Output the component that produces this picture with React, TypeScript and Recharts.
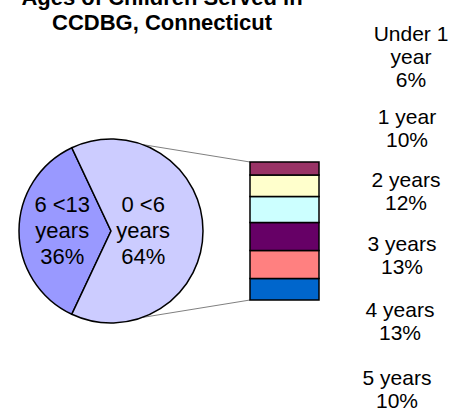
import { PieChart, Pie, Cell, BarChart, Bar, XAxis, YAxis } from "recharts"

// main split
const groupNames = ["6 <13 years", "0 <6 years"]
const groupShares = [36, 64]
const groupColors = ["#9999FF", "#CCCCFF"]

// breakdown of 0 <6 years, listed bottom of the bar to top
const subNames = ["5 years", "4 years", "3 years", "2 years", "1 year", "Under 1 year"]
const subShares = [10, 13, 13, 12, 10, 6]
const subColors = ["#0066CC", "#FF8080", "#660066", "#CCFFFF", "#FFFFCC", "#993366"]

const titleLines = ["Ages of Children Served in", "CCDBG, Connecticut"]

const W = 453
const H = 412
const FONT = "'Liberation Sans', Arial, sans-serif"

// pie geometry
const CX = 111
const CY = 231
const R = 92
const START = 180 - (360 * groupShares[0]) / 100 / 2

// bar box
const BAR_LEFT = 250
const BAR_RIGHT = 319
const BAR_TOP = 162
const BAR_BOTTOM = 300

// where Excel put the breakdown labels (top label first)
const sideLabelX = [411, 407, 406, 402, 400, 397]
const sideLabelY = [41, 124, 187, 251, 317, 385]

const pieData = groupNames.map((name, i) => ({ name, value: groupShares[i] }))
const barRow: Record<string, string | number> = { name: groupNames[1] }
subNames.forEach((n, i) => {
  barRow["s" + i] = subShares[i]
})

const wrap = (s: string) => {
  if (s.length <= 8) return [s]
  const k = s.lastIndexOf(" ")
  return [s.slice(0, k), s.slice(k + 1)]
}

const RADIAN = Math.PI / 180
const labelRadius = [0.53, 0.35]

const PieLabel = (props: any) => {
  const { cx, cy, midAngle, outerRadius, index, value, name } = props
  const r = outerRadius * labelRadius[index]
  const x = cx + r * Math.cos(-midAngle * RADIAN)
  const y = cy + r * Math.sin(-midAngle * RADIAN)
  const lines = [...wrap(name), value + "%"]
  return (
    <text x={x} y={y} textAnchor="middle" fontSize={22} fontFamily={FONT} fill="#000">
      {lines.map((l, j) => (
        <tspan key={j} x={x} y={y + 7 + (j - 1) * 26}>
          {l}
        </tspan>
      ))}
    </text>
  )
}

const connAngle = 70 * RADIAN

export default function App() {
  const topLabels = subNames.map((n, i) => ({ name: n, value: subShares[i] })).reverse()
  return (
    <div style={{ position: "relative", width: W, height: H, background: "#fff" }}>
      <style>{`body{margin:0}`}</style>
      <svg width={W} height={H} style={{ position: "absolute", left: 0, top: 0 }}>
        <text textAnchor="middle" fontSize={22} fontWeight="bold" fontFamily={FONT}>
          {titleLines.map((l, j) => (
            <tspan key={j} x={162} y={5 + j * 25}>
              {l}
            </tspan>
          ))}
        </text>
        <line
          x1={CX + R * Math.cos(connAngle)}
          y1={CY - R * Math.sin(connAngle)}
          x2={BAR_LEFT}
          y2={BAR_TOP}
          stroke="#808080"
          strokeWidth={1}
        />
        <line
          x1={CX + R * Math.cos(connAngle)}
          y1={CY + R * Math.sin(connAngle)}
          x2={BAR_LEFT}
          y2={BAR_BOTTOM}
          stroke="#808080"
          strokeWidth={1}
        />
        {topLabels.map((d, i) => {
          const lines = [...wrap(d.name), d.value + "%"]
          return (
            <text key={d.name} textAnchor="middle" fontSize={21} fontFamily={FONT}>
              {lines.map((l, j) => (
                <tspan key={j} x={sideLabelX[i]} y={sideLabelY[i] + j * 23}>
                  {l}
                </tspan>
              ))}
            </text>
          )
        })}
      </svg>
      <div style={{ position: "absolute", left: 0, top: 0 }}>
        <PieChart width={W} height={H} margin={{ top: 0, right: 0, bottom: 0, left: 0 }}>
          <Pie
            data={pieData}
            dataKey="value"
            nameKey="name"
            cx={CX}
            cy={CY}
            outerRadius={R}
            startAngle={START}
            endAngle={START + 360}
            stroke="#000"
            strokeWidth={1.5}
            label={PieLabel}
            labelLine={false}
            isAnimationActive={false}
          >
            {pieData.map((d, i) => (
              <Cell key={d.name} fill={groupColors[i]} />
            ))}
          </Pie>
        </PieChart>
      </div>
      <div style={{ position: "absolute", left: 0, top: 0 }}>
        <BarChart
          width={W}
          height={H}
          data={[barRow]}
          barCategoryGap={0}
          margin={{ top: BAR_TOP, bottom: H - BAR_BOTTOM, left: BAR_LEFT, right: W - BAR_RIGHT }}
        >
          <XAxis dataKey="name" hide />
          <YAxis hide domain={[0, groupShares[1]]} />
          {subNames.map((n, i) => (
            <Bar
              key={n}
              dataKey={"s" + i}
              stackId="sub"
              fill={subColors[i]}
              stroke="#000"
              strokeWidth={1.5}
              isAnimationActive={false}
            />
          ))}
        </BarChart>
      </div>
    </div>
  )
}
